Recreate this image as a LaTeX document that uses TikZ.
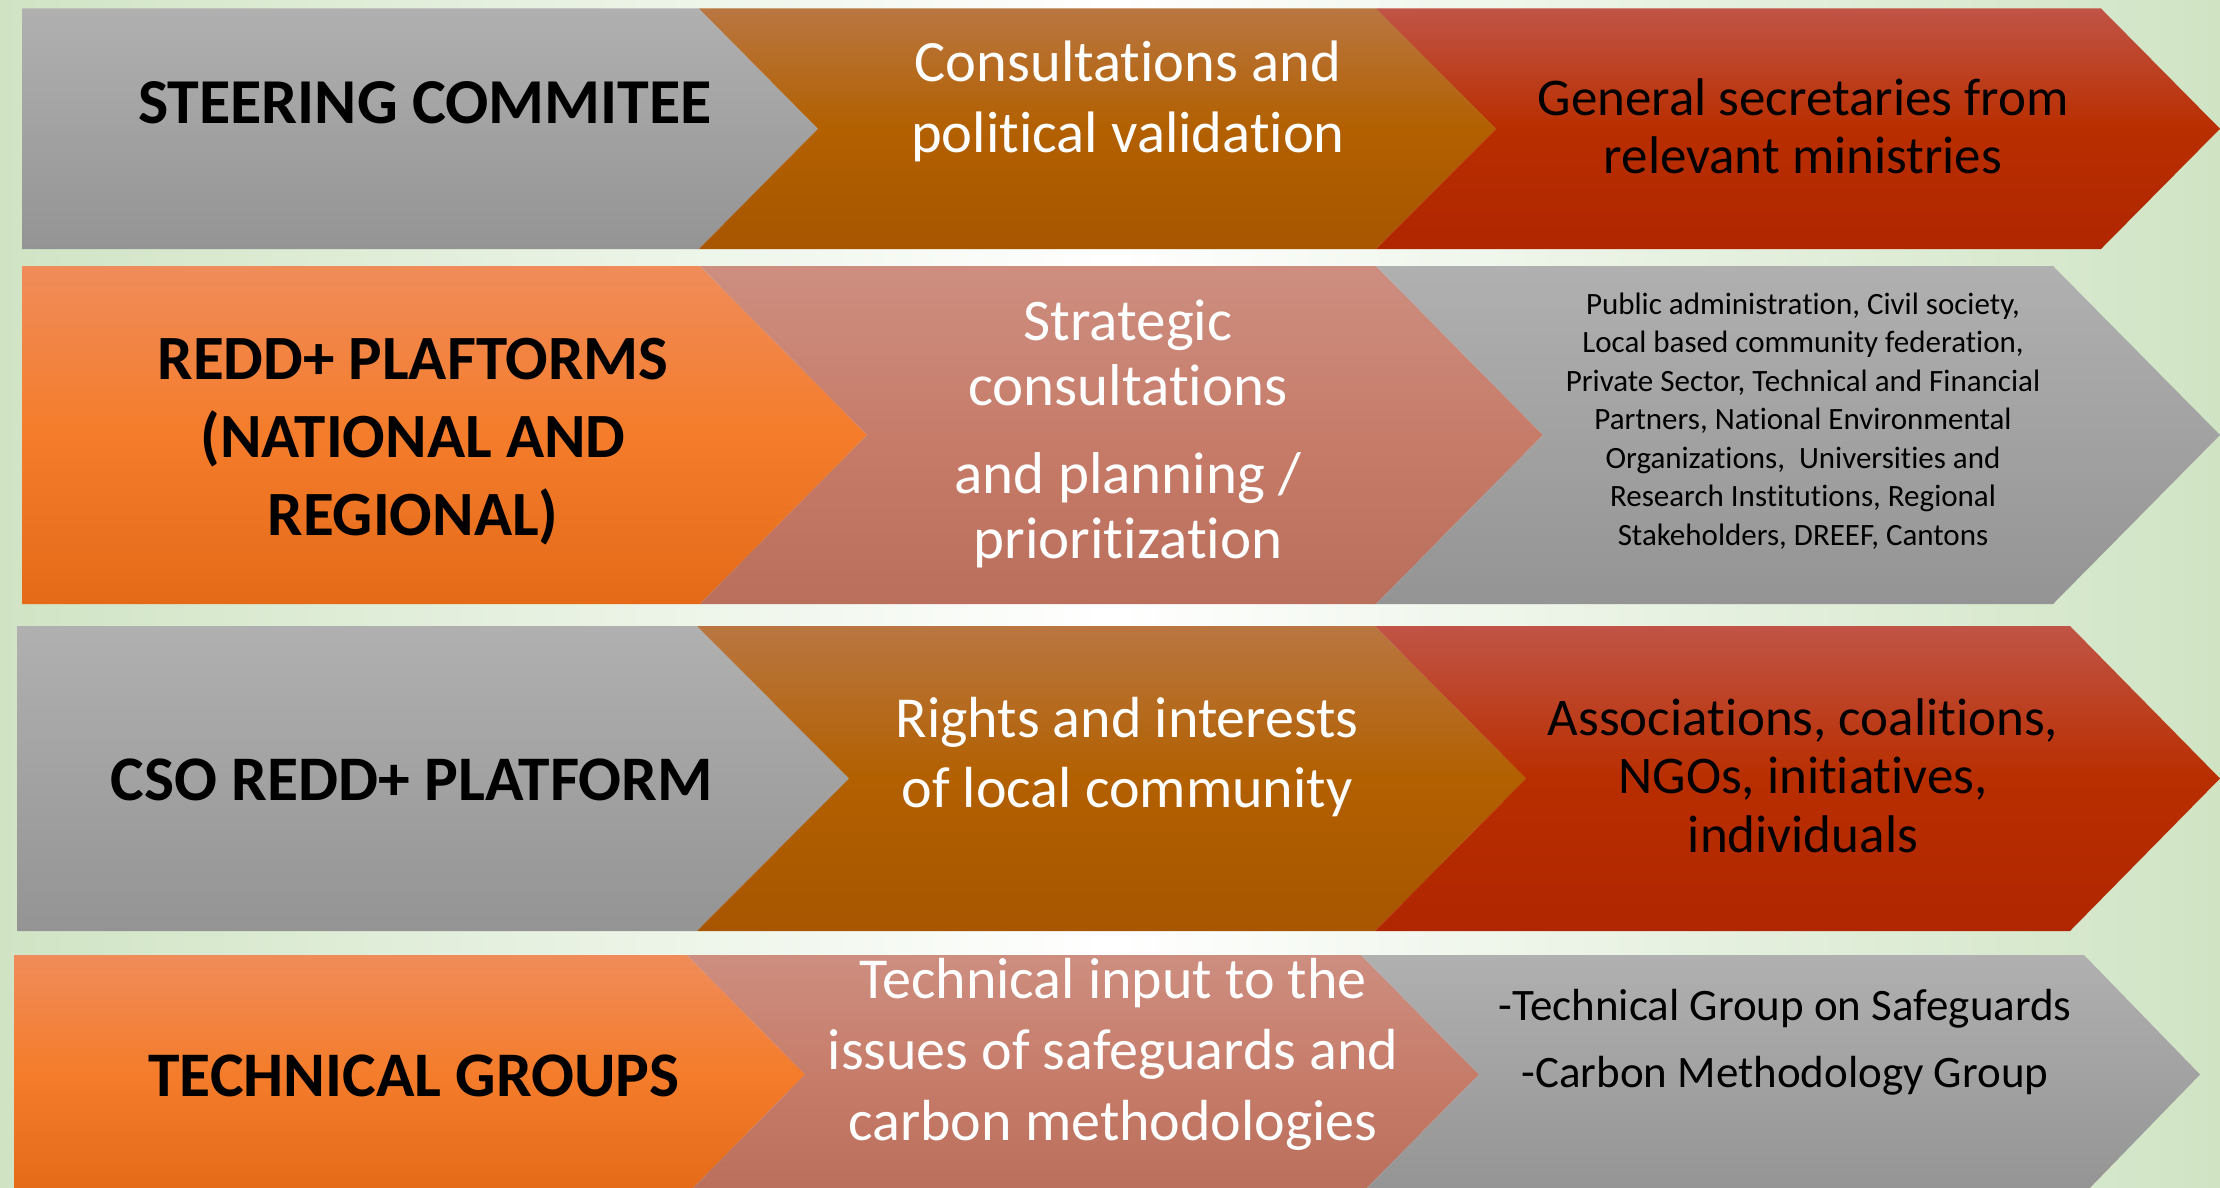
\documentclass[tikz,border=0pt]{standalone}
\usepackage{fontspec}
\setmainfont[Ligatures={NoCommon}]{Carlito}
\definecolor{bgG}{RGB}{208,228,196}
\definecolor{gTop}{RGB}{176,176,176}
\definecolor{gBot}{RGB}{148,148,148}
\definecolor{bTop}{RGB}{185,118,65}
\definecolor{bMid}{RGB}{178,96,0}
\definecolor{bBot}{RGB}{168,86,0}
\definecolor{rTop}{RGB}{192,84,70}
\definecolor{rMid}{RGB}{185,46,0}
\definecolor{rBot}{RGB}{176,38,0}
\definecolor{oTop}{RGB}{240,140,90}
\definecolor{oMid}{RGB}{244,124,42}
\definecolor{oBot}{RGB}{228,106,24}
\definecolor{pTop}{RGB}{205,142,128}
\definecolor{pMid}{RGB}{199,124,106}
\definecolor{pBot}{RGB}{186,110,92}
\tikzset{
  grayfill/.style={top color=gTop, bottom color=gBot},
  brownfill/.style={top color=bTop, bottom color=bBot, middle color=bMid},
  redfill/.style={top color=rTop, bottom color=rBot, middle color=rMid},
  orangefill/.style={top color=oTop, bottom color=oBot, middle color=oMid},
  pinkfill/.style={top color=pTop, bottom color=pBot, middle color=pMid},
  headlbl/.style={inner sep=0pt, align=center, anchor=base, text=black},
  midlbl/.style={inner sep=0pt, align=center, anchor=base, text=white},
  sidelbl/.style={inner sep=0pt, align=center, anchor=base, text=black},
}
% row geometry: top, bottom, mid, x0, corner1, tip1, corner2, tip2, corner3
\newcommand\chevrowA[9]{%
  \def\rT{#1}\def\rB{#2}\def\rM{#3}\def\rX{#4}\def\rCa{#5}\def\rTa{#6}\def\rCb{#7}\def\rTb{#8}\def\rCc{#9}}
% tip3, style1, style2, style3
\newcommand\chevrowB[4]{%
  \shade[#2] (\rX,\rT) -- (\rCa,\rT) -- (\rTa,\rM) -- (\rCa,\rB) -- (\rX,\rB) -- cycle;
  \shade[#3] (\rCa,\rT) -- (\rCb,\rT) -- (\rTb,\rM) -- (\rCb,\rB) -- (\rCa,\rB) -- (\rTa,\rM) -- cycle;
  \shade[#4] (\rCb,\rT) -- (\rCc,\rT) -- (#1,\rM) -- (\rCc,\rB) -- (\rCb,\rB) -- (\rTb,\rM) -- cycle;}
\begin{document}
\begin{tikzpicture}[x=1pt,y=-1pt]
\useasboundingbox (0,0) rectangle (2220,1188);
\clip (0,0) rectangle (2220,1188);
\shade[left color=bgG, right color=bgG, middle color=white] (0,0) rectangle (2220,1188);

% row 1
\chevrowA{8.5}{249}{128.75}{22}{699}{818}{1376}{1496}{2101}
\chevrowB{2220}{grayfill}{brownfill}{redfill}
% row 2
\chevrowA{266}{604}{435}{22}{700}{867}{1376}{1543}{2053}
\chevrowB{2220}{orangefill}{pinkfill}{grayfill}
% row 3
\chevrowA{626}{931}{778.5}{17.5}{697}{849}{1375}{1526}{2070}
\chevrowB{2220}{grayfill}{brownfill}{redfill}
% row 4
\chevrowA{955}{1194}{1074.5}{14}{687}{805}{1361}{1479}{2084}
\chevrowB{2200}{orangefill}{pinkfill}{grayfill}

% row 1 texts (anchor = baseline of last line)
\node[headlbl, font=\bfseries\fontsize{64}{78}\selectfont] (sc) at (425,124) {STEERING COMMITEE};
\node[midlbl, font=\fontsize{58.5}{71}\selectfont] (cpv) at (1128,153) {Consultations and\\political validation};
\node[sidelbl, font=\fontsize{53}{58}\selectfont] (gs) at (1803,173) {General secretaries from\\relevant ministries};

% row 2 texts
\node[headlbl, font=\bfseries\fontsize{63}{78}\selectfont] (rp) at (413,535) {REDD+ PLAFTORMS\\(NATIONAL AND\\REGIONAL)};
\node[midlbl, font=\fontsize{59}{65}\selectfont] (scp) at (1128,558) {Strategic\\consultations\\[23pt]and planning /\\prioritization};
\node[sidelbl, font=\fontsize{31}{38.5}\selectfont] (pa) at (1803,545) {Public administration, Civil society,\\Local based community federation,\\Private Sector, Technical and Financial\\Partners, National Environmental\\Organizations,\ \ Universities and\\Research Institutions, Regional\\Stakeholders, DREEF, Cantons};

% row 3 texts
\node[headlbl, font=\bfseries\fontsize{63.5}{78}\selectfont] (cso) at (412,800) {CSO REDD+ PLATFORM};
\node[midlbl, font=\fontsize{58}{70}\selectfont] (ri) at (1127,807) {Rights and interests\\of local community};
\node[sidelbl, font=\fontsize{53}{58.5}\selectfont] (as) at (1803,852) {Associations, coalitions,\\NGOs, initiatives,\\individuals};

% row 4 texts
\node[headlbl, font=\bfseries\fontsize{63.5}{78}\selectfont] (tg) at (414,1096) {TECHNICAL GROUPS};
\node[midlbl, font=\fontsize{58}{71}\selectfont] (ti) at (1113,1140) {Technical input to the\\issues of safeguards and\\carbon methodologies};
\node[sidelbl, font=\fontsize{45}{67}\selectfont] (tgs) at (1785,1087) {-Technical Group on Safeguards\\-Carbon Methodology Group};
\end{tikzpicture}
\end{document}
